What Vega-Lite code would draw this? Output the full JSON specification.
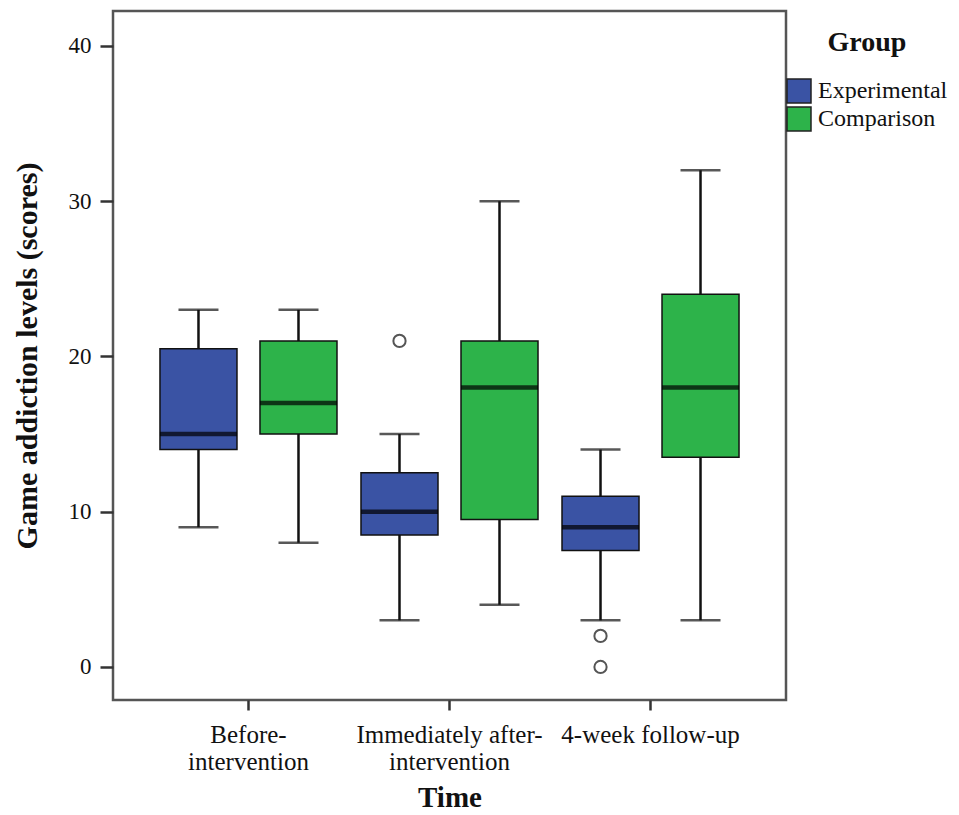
{
  "$schema": "https://vega.github.io/schema/vega-lite/v6.json",
  "autosize": "none",
  "padding": {"left": 113, "top": 11, "right": 173, "bottom": 115},
  "width": 673,
  "height": 689,
  "background": "white",
  "config": {
    "font": "Liberation Serif",
    "view": {"stroke": "#555555", "strokeWidth": 2.5},
    "axis": {"grid": false, "domain": false, "tickColor": "#333333", "tickWidth": 2.5, "labelColor": "#111111", "titleColor": "#111111", "labelFont": "Liberation Serif", "titleFont": "Liberation Serif"}
  },
  "datasets": {
    "boxes": [
      {"time": "Before-intervention", "group": "Experimental", "min": 9, "q1": 14, "median": 15, "q3": 20.5, "max": 23},
      {"time": "Before-intervention", "group": "Comparison", "min": 8, "q1": 15, "median": 17, "q3": 21, "max": 23},
      {"time": "Immediately after-intervention", "group": "Experimental", "min": 3, "q1": 8.5, "median": 10, "q3": 12.5, "max": 15},
      {"time": "Immediately after-intervention", "group": "Comparison", "min": 4, "q1": 9.5, "median": 18, "q3": 21, "max": 30},
      {"time": "4-week follow-up", "group": "Experimental", "min": 3, "q1": 7.5, "median": 9, "q3": 11, "max": 14},
      {"time": "4-week follow-up", "group": "Comparison", "min": 3, "q1": 13.5, "median": 18, "q3": 24, "max": 32}
    ],
    "outliers": [
      {"time": "Immediately after-intervention", "group": "Experimental", "value": 21},
      {"time": "4-week follow-up", "group": "Experimental", "value": 2},
      {"time": "4-week follow-up", "group": "Experimental", "value": 0}
    ]
  },
  "encoding": {
    "x": {
      "field": "time", "type": "nominal",
      "sort": ["Before-intervention", "Immediately after-intervention", "4-week follow-up"],
      "scale": {"paddingInner": 0, "paddingOuter": 0.174},
      "axis": {
        "title": "Time", "titleFontSize": 29, "titleFontWeight": "bold", "titlePadding": 9,
        "labelAngle": 0, "labelFontSize": 25, "labelPadding": 12, "tickSize": 10, "labelLineHeight": 27, "labelLimit": 400,
        "labelExpr": "datum.value == 'Before-intervention' ? ['Before-', 'intervention'] : datum.value == 'Immediately after-intervention' ? ['Immediately after-', 'intervention'] : datum.label"
      }
    },
    "xOffset": {
      "field": "group", "type": "nominal",
      "sort": ["Experimental", "Comparison"],
      "scale": {"paddingInner": 0.23, "paddingOuter": 0.12}
    }
  },
  "layer": [
    {
      "data": {"name": "boxes"},
      "mark": {"type": "rule", "color": "#111111", "strokeWidth": 2.5},
      "encoding": {
        "y": {"field": "min", "type": "quantitative"},
        "y2": {"field": "max"}
      }
    },
    {
      "data": {"name": "boxes"},
      "mark": {"type": "tick", "color": "#111111", "thickness": 2.5, "size": 40},
      "encoding": {"y": {"field": "min", "type": "quantitative"}}
    },
    {
      "data": {"name": "boxes"},
      "mark": {"type": "tick", "color": "#111111", "thickness": 2.5, "size": 40},
      "encoding": {"y": {"field": "max", "type": "quantitative"}}
    },
    {
      "data": {"name": "boxes"},
      "mark": {"type": "bar", "stroke": "#111111", "strokeWidth": 1.5, "opacity": 1},
      "encoding": {
        "y": {
          "field": "q1", "type": "quantitative",
          "scale": {"domain": [-2.13, 42.25], "nice": false, "zero": false},
          "axis": {
            "title": "Game addiction levels (scores)", "titleFontSize": 30, "titleFontWeight": "bold", "titlePadding": 26,
            "values": [0, 10, 20, 30, 40], "labelFontSize": 23, "tickSize": 13, "labelPadding": 9
          }
        },
        "y2": {"field": "q3"},
        "color": {
          "field": "group", "type": "nominal",
          "sort": ["Experimental", "Comparison"],
          "scale": {"domain": ["Experimental", "Comparison"], "range": ["#3a53a4", "#2db34a"]},
          "legend": {
            "title": "Group", "orient": "none", "legendX": 673, "legendY": 18,
            "titleFontSize": 28, "titleFontWeight": "bold", "titleAnchor": "middle", "titlePadding": 21, "titleColor": "#111111",
            "labelFontSize": 24, "labelColor": "#111111", "labelFont": "Liberation Serif", "titleFont": "Liberation Serif",
            "symbolType": "square", "symbolSize": 576, "symbolStrokeColor": "#222222", "symbolStrokeWidth": 1.5, "symbolOpacity": 1,
            "rowPadding": -4, "labelOffset": 6
          }
        }
      }
    },
    {
      "data": {"name": "boxes"},
      "mark": {"type": "tick", "color": "#000000", "thickness": 4.5, "size": 77},
      "encoding": {"y": {"field": "median", "type": "quantitative"}}
    },
    {
      "data": {"name": "outliers"},
      "mark": {"type": "point", "shape": "circle", "filled": false, "stroke": "#555555", "strokeWidth": 2, "size": 150, "opacity": 1},
      "encoding": {"y": {"field": "value", "type": "quantitative"}}
    }
  ]
}
